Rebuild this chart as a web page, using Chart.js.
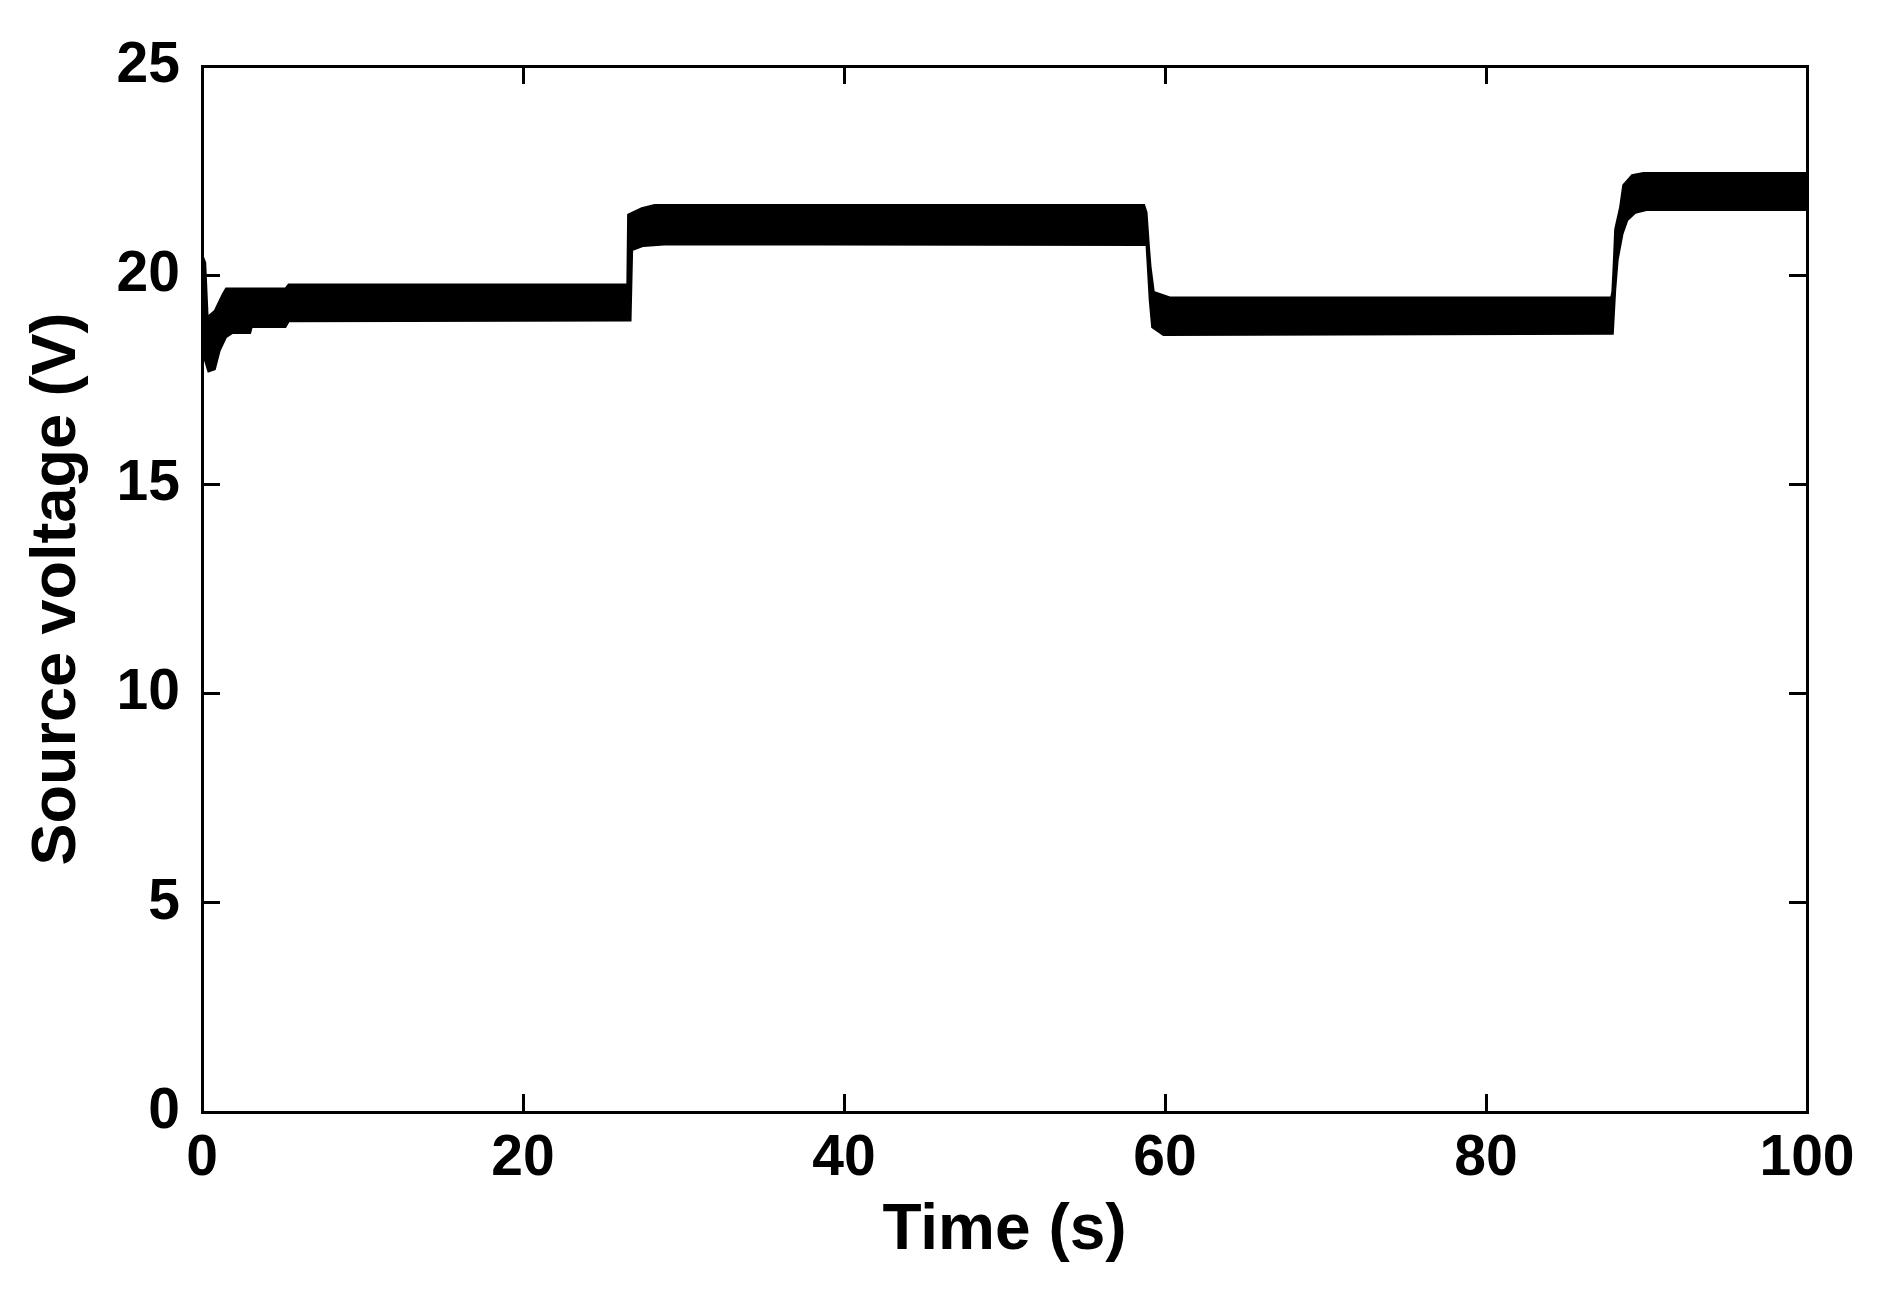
<!DOCTYPE html>
<html>
<head>
<meta charset="utf-8">
<script src="https://cdn.jsdelivr.net/npm/chart.js@4.4.1/dist/chart.umd.min.js"></script>
<style>
  html, body { margin: 0; padding: 0; background: #fff; }
  #wrap { width: 1895px; height: 1300px; }
</style>
</head>
<body>
<div id="wrap"><canvas id="voltChart" width="1895" height="1300"></canvas></div>
<script>
// upper and lower edge of the noisy voltage band
const upperTime = [0, 0.2, 0.35, 0.8, 1.3, 1.5, 5.2, 5.4, 26.5, 26.55, 27.4, 28.2, 58.7, 58.85, 59.0, 59.1, 59.3, 60.3, 87.8, 87.87, 87.95, 88.05, 88.35, 88.55, 89.1, 89.8, 100];
const upperVolt = [20.5, 20.3, 19.0, 19.15, 19.55, 19.68, 19.68, 19.78, 19.78, 21.45, 21.6, 21.68, 21.68, 21.5, 20.67, 20.2, 19.6, 19.47, 19.47, 19.6, 20.2, 21.1, 21.61, 22.15, 22.39, 22.44, 22.44];

const lowerTime = [0, 0.4, 0.8, 1.1, 1.5, 1.9, 3.0, 3.1, 5.2, 5.4, 26.7, 26.8, 27.5, 29.0, 58.85, 59.05, 59.2, 59.9, 87.9, 88.05, 88.2, 88.5, 88.8, 89.3, 90.0, 100];
const lowerVolt = [18.2, 17.7, 17.75, 18.2, 18.52, 18.62, 18.62, 18.76, 18.76, 18.9, 18.92, 20.6, 20.7, 20.74, 20.72, 19.4, 18.76, 18.57, 18.6, 19.65, 20.36, 20.98, 21.31, 21.49, 21.56, 21.56];

const xTicks = [0, 20, 40, 60, 80, 100];
const yTicks = [0, 5, 10, 15, 20, 25];

const FONT = "'Liberation Sans', Arial, sans-serif";

const toPoints = (ts, vs) => ts.map((t, i) => ({ x: t, y: vs[i] }));

const tickGrid = {
  drawOnChartArea: false,
  drawTicks: true,
  tickLength: -18,
  tickWidth: 3,
  tickColor: '#000',
  color: '#000'
};
const border = { display: true, color: '#000', width: 3 };

// keep the plot box where the figure has it
const noPad = s => { s.paddingTop = 0; s.paddingBottom = 0; s.paddingLeft = 0; s.paddingRight = 0; };

new Chart(document.getElementById('voltChart'), {
  type: 'line',
  data: {
    datasets: [
      {
        data: toPoints(upperTime, upperVolt),
        borderColor: '#000',
        backgroundColor: '#000',
        borderWidth: 2,
        pointRadius: 0,
        tension: 0,
        fill: '+1'
      },
      {
        data: toPoints(lowerTime, lowerVolt),
        borderColor: '#000',
        backgroundColor: '#000',
        borderWidth: 2,
        pointRadius: 0,
        tension: 0,
        fill: false
      }
    ]
  },
  options: {
    responsive: false,
    animation: false,
    devicePixelRatio: 1,
    layout: { padding: { top: 66, right: 88, left: 0, bottom: 0 } },
    plugins: { legend: { display: false }, tooltip: { enabled: false } },
    scales: {
      x: {
        type: 'linear',
        position: 'bottom',
        min: 0, max: 100,
        afterBuildTicks: s => { s.ticks = xTicks.map(v => ({ value: v })); },
        afterFit: s => { s.height = 188; noPad(s); },
        grid: tickGrid,
        border: border,
        ticks: { color: '#000', padding: 31, maxRotation: 0, font: { family: FONT, size: 57, weight: 'bold' } },
        title: {
          display: true, text: 'Time (s)', color: '#000',
          font: { family: FONT, size: 64, weight: 'bold' }, padding: { top: 0, bottom: 30 }
        }
      },
      x2: {
        type: 'linear',
        position: 'top',
        min: 0, max: 100,
        afterBuildTicks: s => { s.ticks = xTicks.map(v => ({ value: v })); },
        afterFit: s => { s.height = 0; noPad(s); },
        grid: tickGrid,
        border: border,
        ticks: { display: false }
      },
      y: {
        type: 'linear',
        position: 'left',
        min: 0, max: 25,
        afterBuildTicks: s => { s.ticks = yTicks.map(v => ({ value: v })); },
        afterFit: s => { s.width = 202; noPad(s); },
        grid: tickGrid,
        border: border,
        ticks: { color: '#000', padding: 40, font: { family: FONT, size: 57, weight: 'bold' } },
        title: {
          display: true, text: 'Source voltage (V)', color: '#000',
          font: { family: FONT, size: 63, weight: 'bold' }, padding: { top: 20, bottom: 0 }
        }
      },
      y2: {
        type: 'linear',
        position: 'right',
        min: 0, max: 25,
        afterBuildTicks: s => { s.ticks = yTicks.map(v => ({ value: v })); },
        afterFit: s => { s.width = 0; noPad(s); },
        grid: tickGrid,
        border: border,
        ticks: { display: false }
      }
    }
  }
});
</script>
</body>
</html>
